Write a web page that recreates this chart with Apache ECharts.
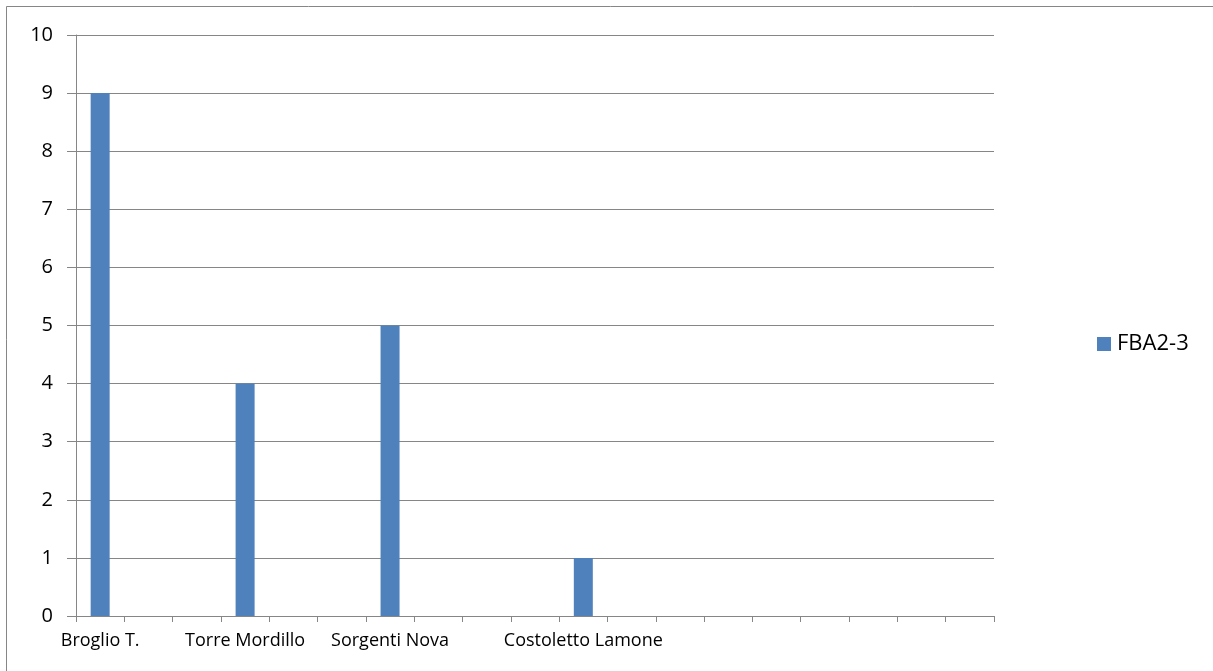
<!DOCTYPE html>
<html><head><meta charset="utf-8">
<script src="https://cdn.jsdelivr.net/npm/echarts@6/dist/echarts.min.js"></script>
<style>html,body{margin:0;padding:0;background:#fff}#c{width:1213px;height:671px}</style>
</head><body><div id="c"></div>
<script>
const categories = ['Broglio T.','','','Torre Mordillo','','','Sorgenti Nova','','','','Costoletto Lamone','','','','','','','',''];
const fba23 = [9,null,null,4,null,null,5,null,null,null,1,null,null,null,null,null,null,null,null];
const yTicks = [0,1,2,3,4,5,6,7,8,9,10];
const seriesName = 'FBA2-3';

const chart = echarts.init(document.getElementById('c'), null, {renderer:'canvas'});
chart.setOption({
  animation:false,
  backgroundColor:'#fff',
  graphic:[{type:'rect',shape:{x:6.5,y:6.5,width:1220,height:680},style:{fill:'none',stroke:'#868686',lineWidth:1},silent:true}],
  grid:{left:76,right:219,top:35,bottom:55,containLabel:false},
  legend:{data:[seriesName],orient:'vertical',left:1092,top:328,itemWidth:14,itemHeight:14,itemGap:6,icon:'rect',
    textStyle:{fontFamily:'Open Sans, Noto Sans, sans-serif',fontSize:22,color:'#000',padding:[0,0,0,1]}},
  xAxis:{type:'category',data:categories,
    axisLine:{lineStyle:{color:'#868686',width:1}},
    axisTick:{show:true,alignWithLabel:false,interval:0,length:6,lineStyle:{color:'#868686'}},
    axisLabel:{interval:0,color:'#000',fontFamily:'Open Sans, Noto Sans, sans-serif',fontSize:18,margin:16},
    splitLine:{show:false}},
  yAxis:{type:'value',min:yTicks[0],max:yTicks[yTicks.length-1],interval:1,
    axisLine:{show:true,lineStyle:{color:'#868686',width:1}},
    axisTick:{show:true,length:9,lineStyle:{color:'#868686'}},
    axisLabel:{color:'#000',fontFamily:'Open Sans, Noto Sans, sans-serif',fontSize:20,margin:23},
    splitLine:{show:true,lineStyle:{color:'#868686',width:1}}},
  series:[{name:seriesName,type:'bar',data:fba23,barWidth:19,itemStyle:{color:'#4F81BD'}}]
});
</script></body></html>
